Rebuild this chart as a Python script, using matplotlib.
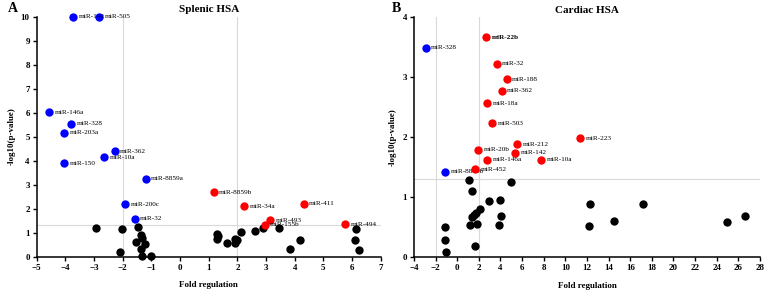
import numpy as np
import matplotlib
matplotlib.use("Agg")
import matplotlib.pyplot as plt

plt.rcParams['font.family'] = ['Liberation Serif', 'DejaVu Serif']

# panel A - splenic HSA
a_down_names = ["miR-142", "miR-505", "miR-146a", "miR-328", "miR-203a", "miR-362",
                "miR-10a", "miR-150", "miR-8859a", "miR-200c", "miR-32"]
a_down_x = [-3.72, -2.83, -4.56, -3.81, -4.05, -2.28, -2.66, -4.04, -1.20, -1.91, -1.58]
a_down_y = [10.0, 10.0, 6.02, 5.53, 5.17, 4.39, 4.13, 3.89, 3.25, 2.18, 1.57]

a_up_names = ["miR-8859b", "miR-34a", "miR-411", "miR-493", "miR-155b", "miR-494"]
a_up_x = [1.17, 2.24, 4.31, 3.13, 2.95, 5.76]
a_up_y = [2.68, 2.11, 2.21, 1.52, 1.32, 1.36]

a_ns_x = [-2.93, -2.01, -2.08, -1.47, -1.35, -1.33, -1.53, -1.22, -1.36, -1.31, -1.02,
          1.30, 1.34, 1.29, 1.64, 1.91, 2.00, 1.91, 2.13, 2.63, 2.88, 3.45, 4.17, 3.85,
          6.14, 6.10, 6.24]
a_ns_y = [1.21, 1.15, 0.18, 1.24, 0.89, 0.78, 0.61, 0.54, 0.32, 0.03, 0.03,
          0.93, 0.88, 0.72, 0.56, 0.72, 0.71, 0.56, 1.01, 1.07, 1.18, 1.18, 0.68, 0.32,
          1.15, 0.70, 0.27]

# panel B - cardiac HSA
b_down_names = ["miR-328", "miR-8859b"]
b_down_x = [-2.92, -1.14]
b_down_y = [3.48, 1.42]

b_up_names = ["miR-22b", "miR-32", "miR-188", "miR-362", "miR-18a", "miR-503", "miR-212",
              "miR-223", "miR-20b", "miR-142", "miR-146a", "miR-10a", "miR-452"]
b_up_x = [2.65, 3.64, 4.57, 4.10, 2.75, 3.21, 5.55, 11.35, 1.91, 5.34, 2.78, 7.77, 1.67]
b_up_y = [3.66, 3.22, 2.96, 2.77, 2.56, 2.23, 1.88, 1.98, 1.79, 1.74, 1.62, 1.62, 1.46]

b_ns_x = [1.08, 1.36, 5.00, 2.90, 3.98, 2.13, 1.73, 1.54, 1.36, 1.17, 1.82, 4.07, 3.86,
          -1.11, -1.11, -1.05, 1.64, 12.27, 12.18, 14.47, 17.15, 24.95, 26.58]
b_ns_y = [1.28, 1.10, 1.26, 0.93, 0.95, 0.81, 0.73, 0.70, 0.67, 0.54, 0.55, 0.68, 0.53,
          0.50, 0.29, 0.09, 0.19, 0.89, 0.52, 0.60, 0.88, 0.58, 0.68]

W, H = 767, 291
fig = plt.figure(figsize=(W / 100, H / 100), dpi=100)


def style_axes(ax, xlim, ylim, xticks, yticks, title):
	ax.set_xlim(*xlim)
	ax.set_ylim(*ylim)
	ax.set_xticks(xticks)
	ax.set_yticks(yticks)
	for s in ["top", "right"]:
		ax.spines[s].set_visible(False)
	for s in ["left", "bottom"]:
		ax.spines[s].set_linewidth(1.1)
	ax.tick_params(direction="out", length=3, width=1, labelsize=6.5, pad=2)
	for lab in ax.get_xticklabels() + ax.get_yticklabels():
		lab.set_fontweight("bold")
	# threshold lines
	for v in (-2, 2):
		ax.axvline(v, color="#d9d9d9", lw=0.8, zorder=0)
	ax.axhline(1.3, color="#d9d9d9", lw=0.8, zorder=0)
	ax.set_xlabel("Fold regulation", fontsize=6.5, fontweight="bold", labelpad=7)
	ax.set_ylabel("-log10(p-value)", fontsize=6.5, fontweight="bold", labelpad=4)
	ax.set_title(title, fontsize=8, fontweight="bold", pad=3)


def draw(ax, xs, ys, color, names=None, bold=()):
	ax.scatter(xs, ys, s=36, color=color, zorder=3, clip_on=False, linewidths=0)
	if names:
		for n, x, y in zip(names, xs, ys):
			ax.annotate(n, (x, y), xytext=(4, 0), textcoords="offset points",
			            va="center", ha="left", fontsize=5.2,
			            fontweight="bold" if n in bold else "normal")


axA = fig.add_axes([36.7 / W, 34.3 / H, 344 / W, 240.2 / H])
style_axes(axA, (-5, 7), (0, 10), np.arange(-5, 8, 1), np.arange(0, 11, 1), "Splenic HSA")
draw(axA, a_ns_x, a_ns_y, "black")
draw(axA, a_down_x, a_down_y, "#0000ff", a_down_names)
draw(axA, a_up_x, a_up_y, "#ff0000", a_up_names)

axB = fig.add_axes([414 / W, 33.7 / H, 346 / W, 240.6 / H])
style_axes(axB, (-4, 28), (0, 4), np.arange(-4, 29, 2), np.arange(0, 5, 1), "Cardiac HSA")
draw(axB, b_ns_x, b_ns_y, "black")
draw(axB, b_down_x, b_down_y, "#0000ff", b_down_names)
draw(axB, b_up_x, b_up_y, "#ff0000", b_up_names, bold=("miR-22b",))

fig.text(8 / W, 1 - 12 / H, "A", fontsize=10, fontweight="bold")
fig.text(392 / W, 1 - 12 / H, "B", fontsize=10, fontweight="bold")

fig.savefig("out.png", dpi=100)
